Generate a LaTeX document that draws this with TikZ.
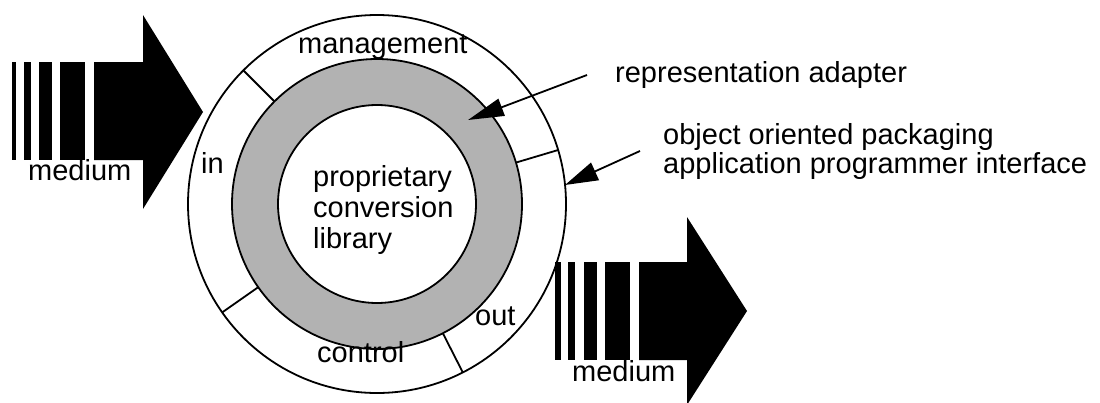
\documentclass[tikz,border=0pt]{standalone}
\usepackage{fontspec}
\setmainfont{Liberation Sans}
\usetikzlibrary{arrows.meta,calc}
\begin{document}
\begin{tikzpicture}[x=1pt,y=-1pt,
  lbl/.style={anchor=base west,inner sep=0pt,font=\fontsize{29}{34}\selectfont},
  ring/.style={line width=1.8pt},
  pointer/.style={line width=1.8pt,-{Triangle[length=36pt,width=18pt]}},
  blk/.style={fill=black}]
\useasboundingbox (0,0) rectangle (1100,402);
% rings
\coordinate (c) at (377,204);
\draw[ring,fill=white] (c) circle[radius=189pt];
\draw[ring,fill=gray!60] (c) circle[radius=145pt];
\draw[ring,fill=white] (c) circle[radius=99pt];
\foreach \a in {135,215,297,16.6}{
  \draw[ring] ($(c)+(\a:145pt)$) -- ($(c)+(\a:189pt)$);
}
% ring labels
\node[lbl] (mgmt) at (298,53) {management};
\node[lbl] (in) at (201,173) {in};
\node[lbl] (ctrl) at (317,362) {control};
\node[lbl] (out) at (475,325) {out};
\node[lbl] (p1) at (313,186) {proprietary};
\node[lbl] (p2) at (313,217) {conversion};
\node[lbl] (p3) at (313,248) {library};
% left arrow
\path[blk] (12,62) rectangle (16,160);
\path[blk] (24,62) rectangle (31,160);
\path[blk] (39,62) rectangle (52,160);
\path[blk] (60,62) rectangle (85,160);
\path[blk] (94,62) -- (143,62) -- (143,15) -- (203,112) -- (143,209) -- (143,160) -- (94,160) -- cycle;
\node[lbl] (medin) at (28,180) {medium};
% right arrow
\path[blk] (555,262) rectangle (561,360);
\path[blk] (568,262) rectangle (575,360);
\path[blk] (584,262) rectangle (597,360);
\path[blk] (605,262) rectangle (630,360);
\path[blk] (639,262) -- (687,262) -- (687,217) -- (747,311) -- (687,405) -- (687,360) -- (639,360) -- cycle;
\node[lbl] (medout) at (572,381) {medium};
% pointers
\node[lbl] (rep) at (615,82) {representation adapter};
\node[lbl,align=left,font=\fontsize{29}{26}\selectfont] (api) at (663,173)
  {object oriented packaging\\application programmer interface};
\coordinate (ras) at (587,75);
\coordinate (rat) at (468,120);
\draw[pointer] (ras) -- (rat);
\coordinate (aps) at (640,151);
\coordinate (apt) at (565,185);
\draw[line width=1.8pt,-{Triangle[length=33pt,width=19pt]}] (aps) -- (apt);
\end{tikzpicture}
\end{document}
